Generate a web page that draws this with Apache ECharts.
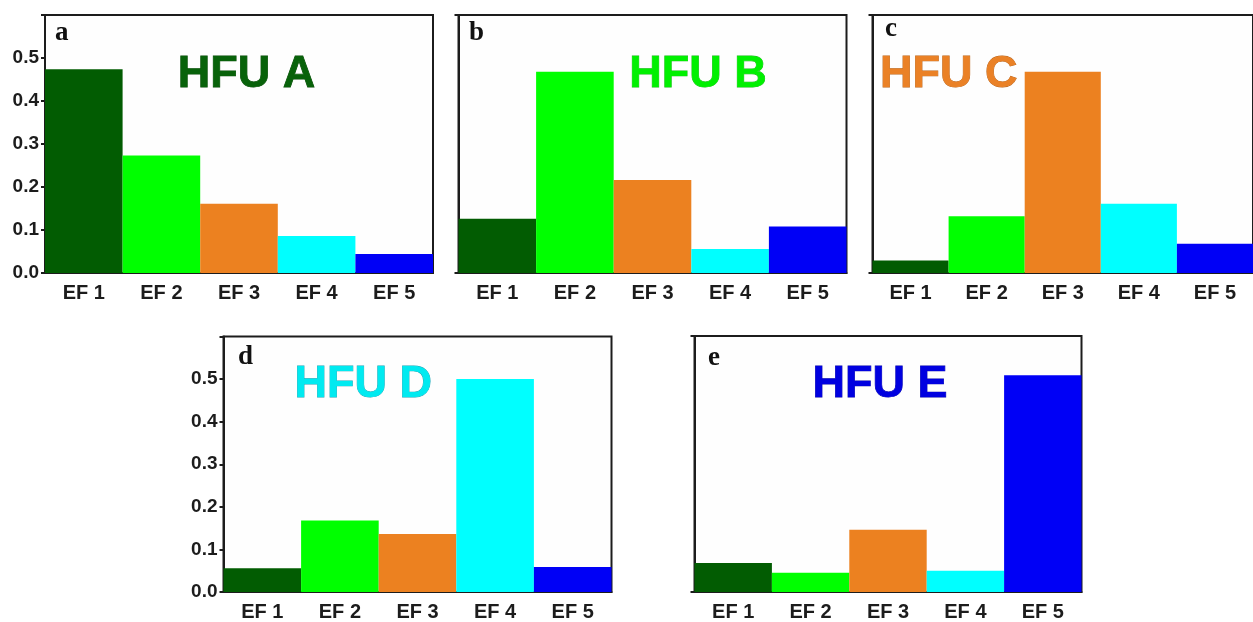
<!DOCTYPE html>
<html>
<head>
<meta charset="utf-8">
<script src="https://cdn.jsdelivr.net/npm/echarts@6/dist/echarts.min.js"></script>
<style>
  html, body { margin: 0; padding: 0; background: #ffffff; }
  #chart { width: 1253px; height: 622px; }
</style>
</head>
<body>
<div id="chart"></div>
<script>
// Contributions of the five end-member factors to each hydrofacies unit
const categories = ['EF 1', 'EF 2', 'EF 3', 'EF 4', 'EF 5'];
const hfuA = [0.474, 0.273, 0.161, 0.086, 0.044];
const hfuB = [0.126, 0.468, 0.216, 0.056, 0.108];
const hfuC = [0.029, 0.132, 0.468, 0.161, 0.068];
const hfuD = [0.056, 0.168, 0.136, 0.500, 0.059];
const hfuE = [0.068, 0.045, 0.146, 0.050, 0.508];
const panelNames = ['HFU A', 'HFU B', 'HFU C', 'HFU D', 'HFU E'];
const panelLetters = ['a', 'b', 'c', 'd', 'e'];

// Styling
const efColors = ['#025c02', '#00ff00', '#ec8120', '#00ffff', '#0000f6'];
const titleFill = ['#08620a', '#00f000', '#ea8126', '#00eaf0', '#0000e0'];
const titleStroke = ['#064a06', '#1fb81f', '#b86218', '#1aa4b4', '#0000a8'];
const ink = '#1c1c1c';

const panels = [
  { data: hfuA, left: 45, top: 15, width: 388, height: 258, yLabels: true },
  { data: hfuB, left: 458.5, top: 15, width: 388, height: 258, yLabels: false },
  { data: hfuC, left: 872.5, top: 15, width: 388, height: 258, yLabels: false },
  { data: hfuD, left: 223.5, top: 336.5, width: 388, height: 257.5, yLabels: true },
  { data: hfuE, left: 694.5, top: 336, width: 387, height: 258, yLabels: false }
];
const titlePos = [[246.5, 74.5], [698, 74.5], [948.7, 74.5], [363.3, 384.5], [880, 384.3]];
const letterPos = [[55, 42], [469, 42], [885, 37.5], [238, 366], [708, 366.5]];

const grid = [], xAxis = [], yAxis = [], series = [], graphic = [];

panels.forEach((p, i) => {
  grid.push({
    left: p.left, top: p.top, width: p.width, height: p.height,
    show: true, borderColor: ink, borderWidth: 2, backgroundColor: '#fefefe',
    containLabel: false
  });
  xAxis.push({
    type: 'category', gridIndex: i, data: categories,
    axisLine: { lineStyle: { color: ink, width: 2 } },
    axisTick: { show: false },
    axisLabel: {
      color: ink, fontFamily: 'Liberation Sans', fontWeight: 'bold',
      fontSize: 20, margin: 10, interval: 0
    }
  });
  yAxis.push({
    type: 'value', gridIndex: i, min: 0, max: 0.6, interval: 0.1,
    splitLine: { show: false },
    axisLine: { show: true, lineStyle: { color: ink, width: 2 } },
    axisTick: p.yLabels
      ? { show: true, length: 4, lineStyle: { color: ink, width: 2 } }
      : { show: true, length: 4, customValues: [0, 0.6], lineStyle: { color: ink, width: 2 } },
    axisLabel: {
      show: p.yLabels, color: ink, fontFamily: 'Liberation Sans',
      fontWeight: 'bold', fontSize: 19, margin: 6,
      formatter: v => (v > 0.55 ? '' : v.toFixed(1))
    }
  });
  series.push({
    type: 'bar', xAxisIndex: i, yAxisIndex: i, data: p.data,
    barCategoryGap: '0%', silent: true,
    itemStyle: { color: params => efColors[params.dataIndex] }
  });
  graphic.push({
    type: 'text', x: titlePos[i][0], y: titlePos[i][1], z: 10,
    style: {
      text: panelNames[i], fill: titleFill[i], stroke: titleStroke[i], lineWidth: 0.8,
      font: 'bold 45px "Liberation Sans"', align: 'center', verticalAlign: 'middle'
    }
  });
  graphic.push({
    type: 'text', x: letterPos[i][0], y: letterPos[i][1] - 8.8, z: 10,
    style: {
      text: panelLetters[i], fill: '#111',
      font: 'bold 27px "Liberation Serif"', align: 'left', verticalAlign: 'middle'
    }
  });
});

const chart = echarts.init(document.getElementById('chart'), null, { renderer: 'canvas' });
chart.setOption({
  animation: false,
  backgroundColor: '#ffffff',
  grid, xAxis, yAxis, series, graphic
});
</script>
</body>
</html>
